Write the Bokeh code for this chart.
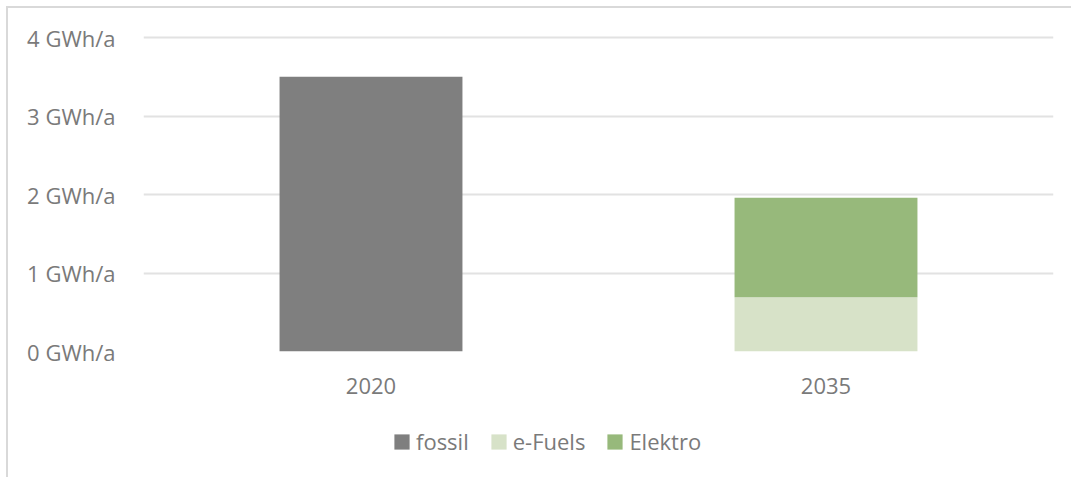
from bokeh.plotting import figure
from bokeh.layouts import column
from bokeh.models import FactorRange, Range1d, FixedTicker, PrintfTickFormatter, Legend, LegendItem
from bokeh.embed import file_html
from bokeh.resources import INLINE

# Energy demand by source, GWh per year
years = ["2020", "2035"]
fossil = [3.5, 0.0]
efuels = [0.0, 0.69]
elektro = [0.0, 1.27]
series = ["fossil", "e-Fuels", "Elektro"]
colors = ["#7f7f7f", "#d7e2c8", "#97b97b"]
y_ticks = [0, 1, 2, 3, 4]

FONT = "Open Sans"
TEXT = "#7a7a7a"
FONT_SIZE = "22px"
W = 1063
LEGEND_H = 67

data = {"years": years, "fossil": fossil, "e-Fuels": efuels, "Elektro": elektro}

p = figure(
    width=W, height=469 - LEGEND_H,
    x_range=FactorRange(factors=years),
    # a hair of headroom so the top grid line is not clipped by the frame
    y_range=Range1d(0, 4.0255),
    output_backend="svg", toolbar_location=None,
    min_border_left=135, min_border_right=18,
    min_border_top=27, min_border_bottom=59,
)
p.outline_line_color = None
p.background_fill_color = "white"
p.border_fill_color = "white"

renderers = p.vbar_stack(series, x="years", width=0.402, color=colors, line_color=None, source=data)

p.xgrid.grid_line_color = None
p.ygrid.grid_line_color = "#e2e2e2"
p.ygrid.grid_line_width = 2
p.ygrid.ticker = FixedTicker(ticks=y_ticks)

p.yaxis.ticker = FixedTicker(ticks=y_ticks)
p.yaxis.formatter = PrintfTickFormatter(format="%d GWh/a")
for ax in (p.xaxis[0], p.yaxis[0]):
    ax.axis_line_color = None
    ax.major_tick_line_color = None
    ax.minor_tick_line_color = None
    ax.major_label_text_font = FONT
    ax.major_label_text_font_size = FONT_SIZE
    ax.major_label_text_color = TEXT
p.yaxis.major_label_standoff = 22
p.xaxis.major_label_standoff = 20

# Legend strip below the chart; its bar renderers sit outside the visible y range
lg = figure(
    width=W, height=LEGEND_H,
    x_range=FactorRange(factors=years), y_range=Range1d(10, 11),
    output_backend="svg", toolbar_location=None,
    x_axis_location=None, y_axis_location=None,
    min_border=0,
)
lg.outline_line_color = None
lg.grid.grid_line_color = None
lg.border_fill_color = "white"
legend_renderers = lg.vbar_stack(series, x="years", width=0.402, color=colors, line_color=None, source=data)

legend = Legend(
    items=[LegendItem(label=s, renderers=[r]) for s, r in zip(series, legend_renderers)],
    orientation="horizontal",
    location=(249, 21),
    glyph_width=19, glyph_height=19,
    label_standoff=5, spacing=20,
    label_text_font=FONT, label_text_font_size=FONT_SIZE, label_text_color=TEXT,
    padding=0, margin=0, border_line_color=None, background_fill_alpha=0,
)
lg.add_layout(legend, "center")

page = column(p, lg, spacing=0)
page.margin = (6, 0, 0, 6)
page.styles = {"border-top": "2px solid #d9d9d9", "border-left": "2px solid #d9d9d9"}

open("out.html", "w").write(file_html(page, INLINE))
